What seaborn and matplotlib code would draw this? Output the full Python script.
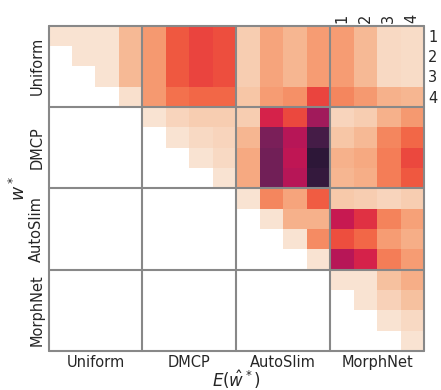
import numpy as np
import pandas as pd
import matplotlib
matplotlib.use("Agg")
import matplotlib.pyplot as plt
import seaborn as sns

methods = ["Uniform", "DMCP", "AutoSlim", "MorphNet"]
sub_ticks = ["1", "2", "3", "4"]
n = np.nan

uniform_rows = [
    [0.02, 0.02, 0.02, 0.13, 0.21, 0.35, 0.39, 0.37, 0.08, 0.18, 0.14, 0.20, 0.20, 0.13, 0.05, 0.04],
    [n, 0.02, 0.02, 0.13, 0.21, 0.35, 0.39, 0.37, 0.08, 0.18, 0.14, 0.20, 0.20, 0.13, 0.05, 0.04],
    [n, n, 0.02, 0.13, 0.21, 0.35, 0.39, 0.37, 0.08, 0.18, 0.14, 0.20, 0.20, 0.13, 0.05, 0.04],
    [n, n, n, 0.03, 0.21, 0.30, 0.32, 0.32, 0.10, 0.20, 0.23, 0.39, 0.25, 0.21, 0.15, 0.14],
]
dmcp_rows = [
    [n, n, n, n, 0.02, 0.06, 0.08, 0.08, 0.08, 0.47, 0.38, 0.60, 0.06, 0.08, 0.15, 0.21],
    [n, n, n, n, n, 0.02, 0.05, 0.06, 0.14, 0.69, 0.55, 0.82, 0.10, 0.13, 0.25, 0.32],
    [n, n, n, n, n, n, 0.02, 0.05, 0.17, 0.71, 0.53, 0.88, 0.15, 0.17, 0.27, 0.38],
    [n, n, n, n, n, n, n, 0.02, 0.17, 0.71, 0.55, 0.86, 0.14, 0.16, 0.27, 0.35],
]
autoslim_rows = [
    [n, n, n, n, n, n, n, n, 0.02, 0.25, 0.18, 0.34, 0.09, 0.08, 0.06, 0.08],
    [n, n, n, n, n, n, n, n, n, 0.02, 0.15, 0.15, 0.51, 0.43, 0.26, 0.19],
    [n, n, n, n, n, n, n, n, n, n, 0.02, 0.24, 0.37, 0.32, 0.20, 0.16],
    [n, n, n, n, n, n, n, n, n, n, n, 0.02, 0.55, 0.47, 0.27, 0.20],
]
morphnet_rows = [
    [n, n, n, n, n, n, n, n, n, n, n, n, 0.02, 0.02, 0.11, 0.16],
    [n, n, n, n, n, n, n, n, n, n, n, n, n, 0.02, 0.07, 0.11],
    [n, n, n, n, n, n, n, n, n, n, n, n, n, n, 0.02, 0.05],
    [n, n, n, n, n, n, n, n, n, n, n, n, n, n, n, 0.02],
]

data = np.array(uniform_rows + dmcp_rows + autoslim_rows + morphnet_rows)
df = pd.DataFrame(data)

sns.set_theme(style="white")
plt.rcParams['font.family'] = ['DejaVu Sans']

fig = plt.figure(figsize=(4.41, 3.90), dpi=100)
ax = fig.add_axes([0.110, 0.100, 0.8515, 0.8346])
sns.heatmap(df, mask=np.isnan(data), cmap="rocket_r", vmin=0, vmax=1,
            cbar=False, ax=ax, xticklabels=False, yticklabels=False)

for k in range(0, 17, 4):
    ax.axhline(k, color="#888888", lw=1.5, clip_on=False)
    ax.axvline(k, color="#888888", lw=1.5, clip_on=False)

fs = 10.5
centers = [2, 6, 10, 14]
ax.set_xticks(centers)
ax.set_xticklabels(methods, fontsize=fs)
ax.set_yticks(centers)
ax.set_yticklabels(methods, fontsize=fs, rotation=90, va="center")
ax.tick_params(length=0, pad=3)
ax.set_xlabel(r"$E(\hat{w}^*)$", fontsize=12, labelpad=-1)
ax.set_ylabel(r"$w^*$", fontsize=12.5, labelpad=0)

ax_top = ax.secondary_xaxis("top")
ax_top.set_xticks([12.5, 13.5, 14.5, 15.5])
ax_top.set_xticklabels(sub_ticks, fontsize=fs, rotation=90)
ax_top.tick_params(length=0, pad=2)
ax_top.spines["top"].set_visible(False)

ax_right = ax.secondary_yaxis("right")
ax_right.set_yticks([0.5, 1.5, 2.5, 3.5])
ax_right.set_yticklabels(sub_ticks, fontsize=fs)
ax_right.tick_params(length=0, pad=3)
ax_right.spines["right"].set_visible(False)

fig.savefig("out.png", dpi=100)
